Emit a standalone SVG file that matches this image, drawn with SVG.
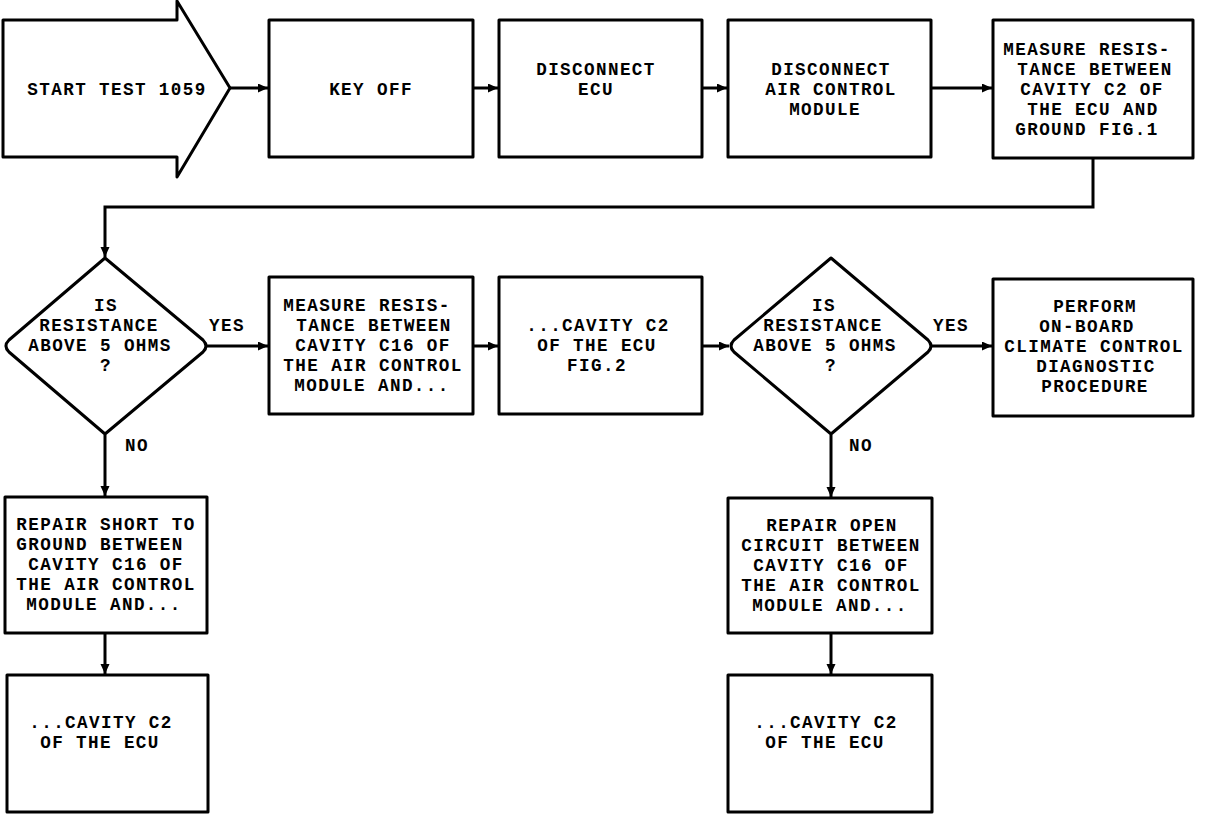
<svg xmlns="http://www.w3.org/2000/svg" width="1216" height="814" viewBox="0 0 1216 814">
<style>
.s{fill:#fff;stroke:#000;stroke-width:3;stroke-linejoin:round}
.c{fill:none;stroke:#000;stroke-width:3}
text{font-family:"Liberation Mono","DejaVu Sans Mono",monospace;font-size:17.6px;font-weight:bold;letter-spacing:1.4px;text-anchor:middle;fill:#000}
</style>
<defs>
<marker id="ah" markerUnits="userSpaceOnUse" markerWidth="12" markerHeight="10" refX="10" refY="4.5" orient="auto">
<path d="M0,0 L10,4.5 L0,9 z" fill="#000"/>
</marker>
</defs>
<rect width="1216" height="814" fill="#fff"/>
<g id="connectors">
<path class="c" d="M230,88 H268" marker-end="url(#ah)"/>
<path class="c" d="M473,88 H498" marker-end="url(#ah)"/>
<path class="c" d="M702,88 H727" marker-end="url(#ah)"/>
<path class="c" d="M931,88 H992" marker-end="url(#ah)"/>
<path class="c" d="M1093,158 V207 H105 V257" marker-end="url(#ah)"/>
<path class="c" d="M207,346 H268" marker-end="url(#ah)"/>
<path class="c" d="M473,346 H498" marker-end="url(#ah)"/>
<path class="c" d="M702,346 H729" marker-end="url(#ah)"/>
<path class="c" d="M932,346 H992" marker-end="url(#ah)"/>
<path class="c" d="M105,435 V496" marker-end="url(#ah)"/>
<path class="c" d="M105,633 V674" marker-end="url(#ah)"/>
<path class="c" d="M831,435 V497" marker-end="url(#ah)"/>
<path class="c" d="M831,633 V674" marker-end="url(#ah)"/>
<text x="227" y="331">YES</text>
<text x="951" y="331">YES</text>
<text x="137" y="451">NO</text>
<text x="861" y="451">NO</text>
</g>
<g id="start">
<polygon class="s" points="3,20 177,20 177,1 230,88 177,177 177,157 3,157"/>
<text x="117" y="95">START TEST 1059</text>
</g>
<g id="keyoff">
<rect class="s" x="269" y="20" width="204" height="137"/>
<text x="371" y="95">KEY OFF</text>
</g>
<g id="disc-ecu">
<rect class="s" x="499" y="20" width="203" height="137"/>
<text><tspan x="596" y="75">DISCONNECT</tspan><tspan x="596" y="95">ECU</tspan></text>
</g>
<g id="disc-acm">
<rect class="s" x="728" y="20" width="203" height="137"/>
<text><tspan x="831" y="75">DISCONNECT</tspan><tspan x="831" y="95">AIR CONTROL</tspan><tspan x="825" y="115">MODULE</tspan></text>
</g>
<g id="measure1">
<rect class="s" x="993" y="20" width="200" height="138"/>
<text><tspan x="1087" y="55">MEASURE RESIS-</tspan><tspan x="1095" y="75">TANCE BETWEEN</tspan><tspan x="1092" y="95">CAVITY C2 OF</tspan><tspan x="1093" y="115">THE ECU AND</tspan><tspan x="1087" y="135">GROUND FIG.1</tspan></text>
</g>
<g id="decision1">
<path class="s" d="M105,258 L203,340 Q209,346 203,352 L105,434 L9,352 Q3,346 9,340 Z"/>
<text><tspan x="106" y="311">IS</tspan><tspan x="99" y="331">RESISTANCE</tspan><tspan x="100" y="351">ABOVE 5 OHMS</tspan><tspan x="106" y="371">?</tspan></text>
</g>
<g id="measure2">
<rect class="s" x="269" y="277" width="204" height="137"/>
<text><tspan x="367" y="311">MEASURE RESIS-</tspan><tspan x="374" y="331">TANCE BETWEEN</tspan><tspan x="373" y="351">CAVITY C16 OF</tspan><tspan x="373" y="371">THE AIR CONTROL</tspan><tspan x="372" y="391">MODULE AND...</tspan></text>
</g>
<g id="cavity-fig2">
<rect class="s" x="499" y="277" width="203" height="137"/>
<text><tspan x="598" y="331">...CAVITY C2</tspan><tspan x="597" y="351">OF THE ECU</tspan><tspan x="597" y="371">FIG.2</tspan></text>
</g>
<g id="decision2">
<path class="s" d="M831,258 L928,340 Q934,346 928,352 L831,434 L734,352 Q728,346 734,340 Z"/>
<text><tspan x="824" y="311">IS</tspan><tspan x="823" y="331">RESISTANCE</tspan><tspan x="825" y="351">ABOVE 5 OHMS</tspan><tspan x="831" y="371">?</tspan></text>
</g>
<g id="perform">
<rect class="s" x="993" y="279" width="200" height="137"/>
<text><tspan x="1095" y="312">PERFORM</tspan><tspan x="1087" y="332">ON-BOARD</tspan><tspan x="1094" y="352">CLIMATE CONTROL</tspan><tspan x="1096" y="372">DIAGNOSTIC</tspan><tspan x="1095" y="392">PROCEDURE</tspan></text>
</g>
<g id="repair-short">
<rect class="s" x="5" y="497" width="202" height="136"/>
<text><tspan x="106" y="530">REPAIR SHORT TO</tspan><tspan x="100" y="550">GROUND BETWEEN</tspan><tspan x="106" y="570">CAVITY C16 OF</tspan><tspan x="106" y="590">THE AIR CONTROL</tspan><tspan x="104" y="610">MODULE AND...</tspan></text>
</g>
<g id="cavity-left">
<rect class="s" x="7" y="675" width="201" height="137"/>
<text><tspan x="101" y="728">...CAVITY C2</tspan><tspan x="100" y="748">OF THE ECU</tspan></text>
</g>
<g id="repair-open">
<rect class="s" x="728" y="498" width="204" height="135"/>
<text><tspan x="832" y="531">REPAIR OPEN</tspan><tspan x="831" y="551">CIRCUIT BETWEEN</tspan><tspan x="831" y="571">CAVITY C16 OF</tspan><tspan x="831" y="591">THE AIR CONTROL</tspan><tspan x="830" y="611">MODULE AND...</tspan></text>
</g>
<g id="cavity-right">
<rect class="s" x="728" y="675" width="204" height="137"/>
<text><tspan x="826" y="728">...CAVITY C2</tspan><tspan x="825" y="748">OF THE ECU</tspan></text>
</g>
</svg>
